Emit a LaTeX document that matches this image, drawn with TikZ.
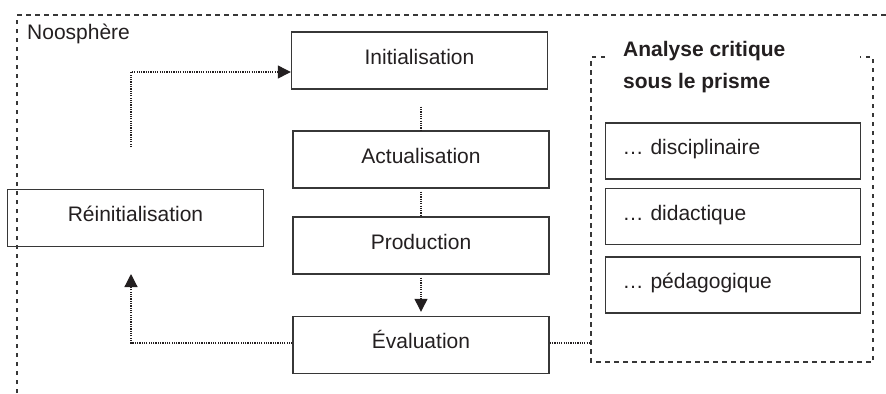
\documentclass[tikz,border=0pt]{standalone}
\usepackage{fontspec}
\setmainfont{Liberation Sans}
\usetikzlibrary{arrows.meta}
\definecolor{ink}{RGB}{35,31,32}
\definecolor{edge}{RGB}{55,55,55}
\tikzset{
  stage/.style={draw=edge, line width=1.4bp, minimum width=256bp, minimum height=57bp,
    inner sep=0pt, text height=0.72em, text depth=0pt, text=ink,
    font=\fontsize{21bp}{32bp}\selectfont},
  prism/.style={stage, minimum width=255bp, minimum height=56bp, text width=221bp,
    align=left, inner xsep=17bp},
  frame/.style={draw=edge, line width=1.2bp, dash pattern=on 4.5bp off 4.5bp},
  link/.style={draw=ink, line width=1.2bp, dash pattern=on 1.2bp off 1.1bp},
  tip/.style={-{Triangle[length=13bp,width=13bp]}},
  label/.style={text=ink, inner sep=0pt, font=\fontsize{21bp}{32bp}\selectfont}
}
\begin{document}
\begin{tikzpicture}[x=1bp,y=-1bp]
\useasboundingbox (0,0) rectangle (886,393);
% outer noosphere frame
\coordinate (nbl) at (17,393);
\coordinate (ntl) at (17,15);
\coordinate (ntr) at (886,15);
\draw[frame] (nbl) -- (ntl) -- (ntr);
\node[label, anchor=base west] (noo) at (27,39) {Noosphère};

% stages
\node[stage] (init) at (419.5,60.5) {Initialisation};
\node[stage] (actu) at (421,159.5) {Actualisation};
\node[stage] (prod) at (421,245.5) {Production};
\node[stage] (eval) at (421,345) {Évaluation};
\node[stage] (reinit) at (135.5,218) {Réinitialisation};

% analysis frame
\coordinate (a1) at (605,57);
\coordinate (a2) at (591,57);
\coordinate (a3) at (591,362);
\coordinate (a4) at (873,362);
\coordinate (a5) at (873,57);
\coordinate (a6) at (860,57);
\draw[frame] (a1) -- (a2) -- (a3) -- (a4) -- (a5) -- (a6);
\node[label, anchor=base west, align=left, font=\fontsize{21bp}{32bp}\selectfont\bfseries] (title) at (623,88) {Analyse critique\\sous le prisme};

\node[prism] (disc) at (733,151) {… disciplinaire};
\node[prism] (dida) at (733,216.5) {… didactique};
\node[prism] (peda) at (733,285) {… pédagogique};

% connectors
\draw[link] ([yshift=-17bp]actu.north |- init.south) -- (actu.north);
\draw[link] ([yshift=-3bp]actu.south) -- (prod.north);
\draw[link, tip, shorten >=4bp] ([yshift=-3bp]prod.south) -- (eval.north);
\coordinate (up) at (131,274);
\draw[link, tip] ([yshift=2bp]eval.west) -| (up);
\coordinate (start) at (131,147);
\draw[link, tip] (start) |- ([yshift=-11.5bp]init.west);
\draw[link] ([yshift=2bp]eval.east) -- ([yshift=2bp]eval.east -| a3);
\end{tikzpicture}
\end{document}
